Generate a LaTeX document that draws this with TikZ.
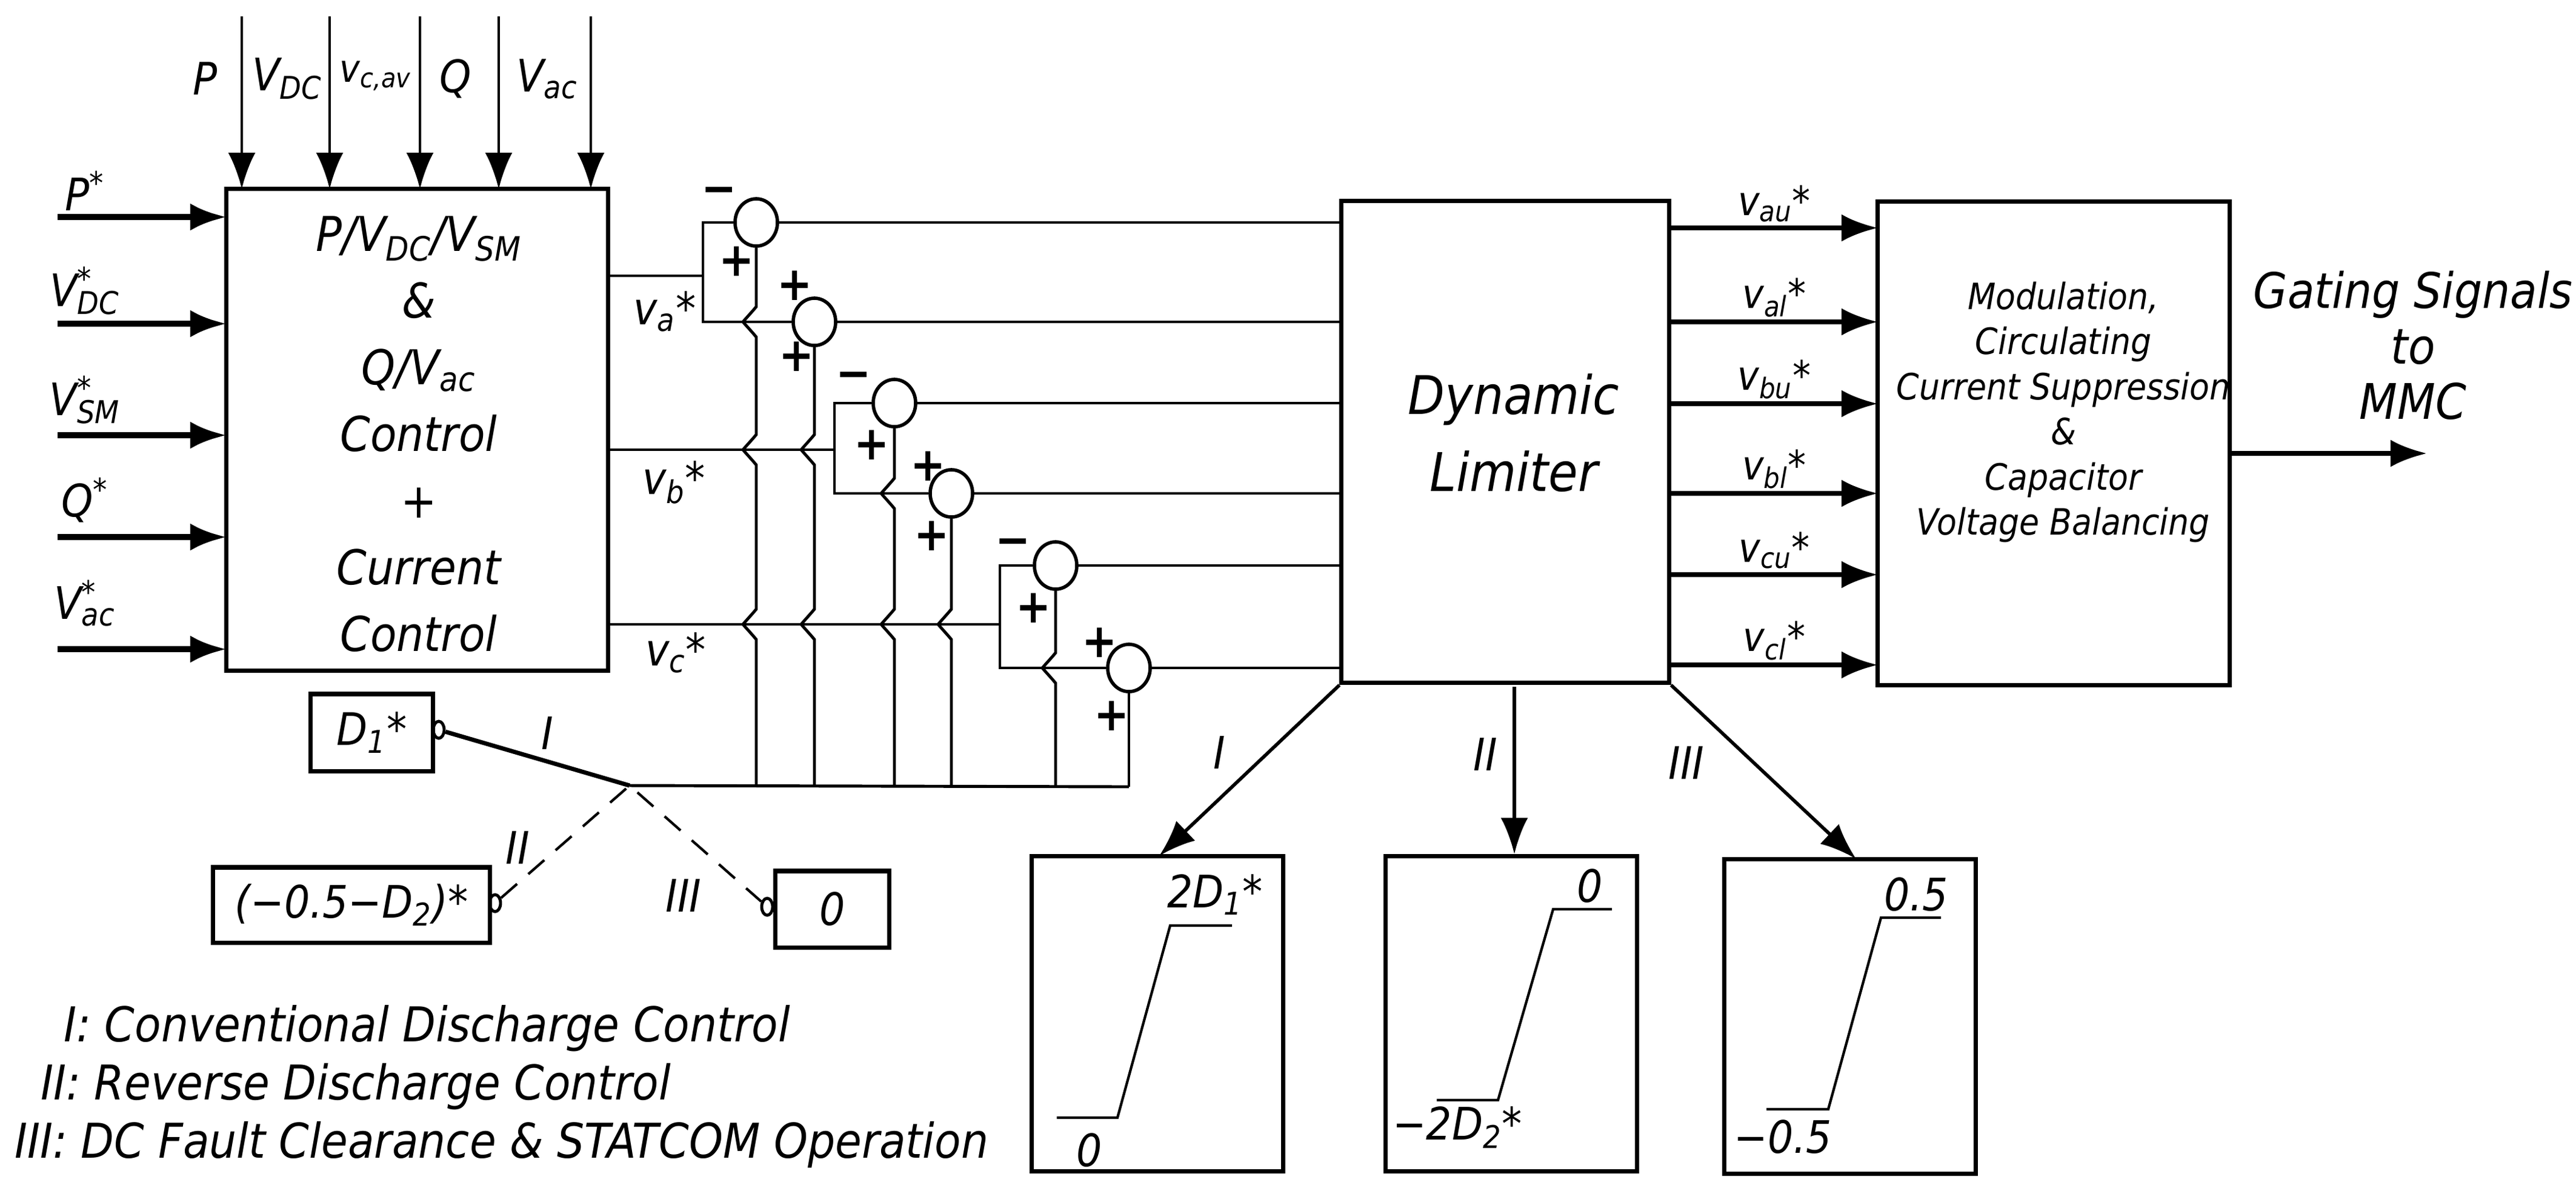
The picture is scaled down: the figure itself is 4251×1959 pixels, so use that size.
\documentclass[tikz,border=0pt]{standalone}
\usepackage{fontspec}
\setmainfont{DejaVu Sans Condensed}
\usetikzlibrary{arrows.meta,shapes.geometric}
\newcommand\jmp[2]{-- (#1,#2+25) -- (#1-6,#2+18) -- (#1-22,#2) -- (#1-6,#2-18) -- (#1,#2-25)}
\newcommand\ssub[2]{#1\textsubscript{#2}}
\newcommand\sst[2]{#1\rlap{\textsuperscript{*}}\textsubscript{#2}}
\begin{document}
\begin{tikzpicture}[x=0.01cm,y=-0.01cm,line width=1.4pt,
  every node/.style={font=\itshape\fontsize{21}{24}\selectfont},
  blk/.style={draw,line width=2pt,inner sep=0pt},
  sum/.style={draw,ellipse,minimum width=0.7cm,minimum height=0.78cm,inner sep=0pt,line width=1.6pt},
  term/.style={draw,ellipse,minimum width=0.18cm,minimum height=0.28cm,inner sep=0pt,line width=1.4pt},
  big/.style={-{Latex[length=0.6cm,width=0.45cm]}},
  sgn/.style={font=\bfseries\fontsize{22}{24}\selectfont,inner sep=0pt},
  lbl/.style={inner sep=0pt}]
\useasboundingbox (0,0) rectangle (4251,1959);
% main block
\node[blk,minimum width=6.29cm,minimum height=7.94cm] (main) at (688.5,709) {};
\node[lbl,align=center,font=\itshape\fontsize{22.5}{31.3}\selectfont] (maintxt) at (691,716)
 {P/\ssub{V}{DC}/\ssub{V}{SM}\\ \&\\ Q/\ssub{V}{ac}\\ Control\\ +\\ Current\\ Control};
% top inputs
\foreach \x/\t [count=\i] in {399/P,544/\ssub{V}{DC},693/\ssub{v}{c,av},823/Q,975/\ssub{V}{ac}}{
  \coordinate (t\i) at (\x,27);
  \draw[big] (t\i) -- (\x,312);}
\node[lbl] (lP) at (339,130) {P};
\node[lbl] (lVdc) at (474,130) {\ssub{V}{DC}};
\node[lbl,font=\itshape\fontsize{18}{20}\selectfont] (lvc) at (620,125) {\ssub{v}{c,av}};
\node[lbl] (lQ) at (752,130) {Q};
\node[lbl] (lVac) at (903,130) {\ssub{V}{ac}};
% left inputs
\foreach \y [count=\i] in {358,534,718,886,1071}{
  \coordinate (l\i) at (95,\y);
  \draw[big,line width=3pt] (l\i) -- (374,\y);}
\node[lbl] at (140,315) {P\textsuperscript{*}};
\node[lbl] at (140,480) {\sst{V}{DC}};
\node[lbl] at (140,660) {\sst{V}{SM}};
\node[lbl] at (140,825) {Q\textsuperscript{*}};
\node[lbl] at (140,995) {\sst{V}{ac}};
% summers
\node[sum] (c1) at (1248,367) {};
\node[sum] (c2) at (1344,531) {};
\node[sum] (c3) at (1476,665) {};
\node[sum] (c4) at (1570,814) {};
\node[sum] (c5) at (1742,933) {};
\node[sum] (c6) at (1863,1102) {};
% phase references
\draw (1003,455) -- (1160,455);
\draw (c1.west) -- (1160,367) -- (1160,531) -- (c2.west);
\draw (1003,742) -- (1377,742);
\draw (c3.west) -- (1377,665) -- (1377,814) -- (c4.west);
\draw (1003,1030) -- (1650,1030);
\draw (c5.west) -- (1650,933) -- (1650,1102) -- (c6.west);
\node[lbl] at (1097,514) {\ssub{v}{a}*};
\node[lbl] at (1112,796) {\ssub{v}{b}*};
\node[lbl] at (1115,1077) {\ssub{v}{c}*};
% bottom bus and offset verticals
\coordinate (piv) at (1039,1296);
\draw (piv) -- (1863,1298);
\draw (1248,1298) \jmp{1248}{1030} \jmp{1248}{742} \jmp{1248}{531} -- (c1.south);
\draw (1344,1298) \jmp{1344}{1030} \jmp{1344}{742} -- (c2.south);
\draw (1476,1298) \jmp{1476}{1030} \jmp{1476}{814} -- (c3.south);
\draw (1570,1298) \jmp{1570}{1030} -- (c4.south);
\draw (1742,1298) \jmp{1742}{1102} -- (c5.south);
\draw (1863,1298) -- (c6.south);
% signs
\node[sgn] at (1187,323) {\textminus};
\node[sgn] at (1216,431) {+};
\node[sgn] at (1312,471) {+};
\node[sgn] at (1315,588) {+};
\node[sgn] at (1409,628) {\textminus};
\node[sgn] at (1439,734) {+};
\node[sgn] at (1532,769) {+};
\node[sgn] at (1538,884) {+};
\node[sgn] at (1672,903) {\textminus};
\node[sgn] at (1706,1003) {+};
\node[sgn] at (1815,1060) {+};
\node[sgn] at (1835,1181) {+};
% dynamic limiter
\node[blk,minimum width=5.4cm,minimum height=7.95cm] (lim) at (2484,729) {};
\node[lbl,align=center,font=\itshape\fontsize{25}{36}\selectfont] (limtxt) at (2498,714) {Dynamic\\Limiter};
\foreach \i/\y in {1/367,2/531,3/665,4/814,5/933,6/1102}{
  \draw (c\i.east) -- (2214,\y);}
% modulation block
\node[blk,minimum width=5.8cm,minimum height=7.97cm] (mod) at (3389,731.5) {};
\node[lbl,align=center,font=\itshape\fontsize{17}{21.2}\selectfont] (modtxt) at (3405,680)
 {Modulation,\\Circulating\\Current Suppression\\\&\\Capacitor\\Voltage Balancing};
\foreach \y/\t in {376/au,531/al,666/bu,814/bl,948/cu,1097/cl}{
  \draw[big,line width=2.2pt] (2754,\y) -- (3099,\y);
  \node[lbl,font=\itshape\fontsize{19}{21}\selectfont] at (2928,\y-40) {\ssub{v}{\t}*};}
\coordinate (gout) at (4005,748);
\draw[big,line width=2.2pt] (3679,748) -- (gout);
\node[lbl,align=center,font=\itshape\fontsize{23}{26}\selectfont] (gtxt) at (3982,570) {Gating Signals\\to\\MMC};
% limiter characteristics
\node[blk,minimum width=4.14cm,minimum height=5.19cm] (b1) at (1910,1672.5) {};
\node[blk,minimum width=4.14cm,minimum height=5.19cm] (b2) at (2494,1672.5) {};
\node[blk,minimum width=4.14cm,minimum height=5.19cm] (b3) at (3053,1677) {};
\draw[big,line width=1.6pt] (lim.south west) -- (1913,1412);
\draw[big,line width=1.6pt] (2499,1133) -- (b2.north -| 2499,0);
\draw[big,line width=1.6pt] (lim.south east) -- (3063,1417);
\node[lbl] at (2012,1242) {I};
\node[lbl] at (2451,1245) {II};
\node[lbl] at (2783,1259) {III};
\draw[line width=1.2pt] (1744,1844) -- (1844,1844) -- (1931,1527) -- (2033,1527);
\draw[line width=1.2pt] (2371,1815) -- (2472,1815) -- (2563,1500) -- (2660,1500);
\draw[line width=1.2pt] (2915,1830) -- (3017,1830) -- (3104,1514) -- (3203,1514);
\node[lbl] at (2005,1476) {2\ssub{D}{1}*};
\node[lbl] at (1798,1898) {0};
\node[lbl] at (2624,1462) {0};
\node[lbl] at (2405,1860) {\textminus2\ssub{D}{2}*};
\node[lbl] at (3162,1476) {0.5};
\node[lbl] at (2942,1876) {\textminus0.5};
% switch
\node[blk,minimum width=2.01cm,minimum height=1.27cm] (d1) at (613.5,1208.5) {\ssub{D}{1}*};
\node[blk,minimum width=4.56cm,minimum height=1.24cm] (d2) at (580,1493) {(\textminus0.5\textminus\ssub{D}{2})*};
\node[blk,minimum width=1.87cm,minimum height=1.26cm] (z) at (1373.5,1500) {0};
\node[term] (s1) at (724,1204) {};
\node[term] (s2) at (817,1490) {};
\node[term] (s3) at (1266,1496) {};
\draw[line width=2pt] (s1) -- (piv);
\draw[dashed,line width=1.2pt,dash pattern=on 10pt off 7pt] (s2) -- (piv) -- (s3);
\node[lbl] at (903,1210) {I};
\node[lbl] at (854,1399) {II};
\node[lbl] at (1128,1478) {III};
% legend
\node[lbl,anchor=west,font=\itshape\fontsize{22.5}{24}\selectfont] at (103,1697) {I: Conventional Discharge Control};
\node[lbl,anchor=west,font=\itshape\fontsize{22.5}{24}\selectfont] at (65,1793) {II: Reverse Discharge Control};
\node[lbl,anchor=west,font=\itshape\fontsize{22.5}{24}\selectfont] at (22,1889) {III: DC Fault Clearance \& STATCOM Operation};
\end{tikzpicture}
\end{document}
